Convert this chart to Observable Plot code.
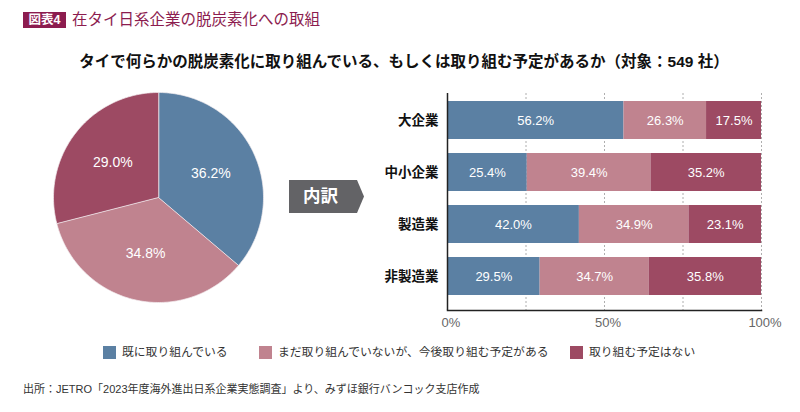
<!DOCTYPE html>
<html><head><meta charset="utf-8">
<script src="https://cdn.jsdelivr.net/npm/d3@7"></script>
<script src="https://cdn.jsdelivr.net/npm/@observablehq/plot@0.6"></script>
<style>
body{margin:0;background:#fff;}
#root{position:relative;width:800px;height:412px;overflow:hidden;font-family:"Liberation Sans","Noto Sans CJK JP",sans-serif;color:#222;}
.abs{position:absolute;}
.badge{left:23px;top:12px;width:43px;height:16px;background:#8c1c4f;color:#fff;font-weight:bold;font-size:12.5px;line-height:16px;text-align:center;}
.title{left:72px;top:10px;font-size:15.5px;line-height:19px;color:#8c1c4f;white-space:nowrap;}
.subtitle{left:0;top:53px;width:808px;text-align:center;font-weight:bold;font-size:15.5px;line-height:18px;color:#111;white-space:nowrap;}
.arrow{left:289px;top:180px;width:75px;height:33px;background:#636366;clip-path:polygon(0 0,68px 0,75px 50%,68px 100%,0 100%);color:#fff;font-weight:bold;font-size:17.5px;line-height:33px;padding-left:14px;box-sizing:border-box;}
.leg{top:346px;display:flex;align-items:center;font-size:11.8px;line-height:13px;color:#333;white-space:nowrap;}
.sw{width:13px;height:13px;margin-right:6px;flex:none;}
.caption{left:23px;top:382px;font-size:11px;line-height:14px;color:#333;white-space:nowrap;}
</style></head><body><div id="root"></div>
<script>
// ---- data ----
const seriesNames = ["既に取り組んでいる", "まだ取り組んでいないが、今後取り組む予定がある", "取り組む予定はない"];
const seriesColors = ["#5b80a3", "#c0838f", "#9d4a63"];
const pieValues = [36.2, 34.8, 29.0];
const categories = ["大企業", "中小企業", "製造業", "非製造業"];
const doneValues = [56.2, 25.4, 42.0, 29.5];
const plannedValues = [26.3, 39.4, 34.9, 34.7];
const noneValues = [17.5, 35.2, 23.1, 35.8];
const xTicks = [0, 50, 100];
const gridTicks = [25, 50, 75, 100];
const titleBadge = "図表4";
const titleText = "在タイ日系企業の脱炭素化への取組";
const subtitleText = "タイで何らかの脱炭素化に取り組んでいる、もしくは取り組む予定があるか（対象：549 社）";
const arrowText = "内訳";
const captionText = "出所：JETRO「2023年度海外進出日系企業実態調査」より、みずほ銀行バンコック支店作成";

const root = document.getElementById("root");
function addDiv(cls, text, style) {
  const d = document.createElement("div");
  d.className = "abs " + cls;
  if (text != null) d.textContent = text;
  if (style) Object.assign(d.style, style);
  root.appendChild(d);
  return d;
}
addDiv("badge", titleBadge);
addDiv("title", titleText);
addDiv("subtitle", subtitleText);
addDiv("arrow", arrowText);
addDiv("caption", captionText);

// ---- pie ----
const pieArcs = d3.pie().sort(null).value(d => d)(pieValues);
const piePts = [];
const pieLabels = [];
pieArcs.forEach((a, i) => {
  piePts.push({x: 0, y: 0, s: seriesNames[i]});
  const n = 120;
  for (let k = 0; k <= n; k++) {
    const t = a.startAngle + (a.endAngle - a.startAngle) * k / n;
    piePts.push({x: Math.sin(t), y: Math.cos(t), s: seriesNames[i]});
  }
  const m = (a.startAngle + a.endAngle) / 2;
  pieLabels.push({x: 0.55 * Math.sin(m), y: 0.55 * Math.cos(m), v: pieValues[i]});
});
const R = 110 / 105;
const pie = Plot.plot({
  width: 220, height: 220, margin: 0,
  x: {domain: [-R, R], axis: null},
  y: {domain: [-R, R], axis: null},
  color: {domain: seriesNames, range: seriesColors},
  style: {fontFamily: '"Liberation Sans","Noto Sans CJK JP",sans-serif', background: "transparent"},
  marks: [
    Plot.line(piePts, {x: "x", y: "y", z: "s", fill: "s", stroke: "#f4eef0", strokeWidth: 0.7, curve: "linear-closed"}),
    Plot.text(pieLabels, {x: "x", y: "y", text: d => d.v.toFixed(1) + "%", fill: "white", fontSize: 14})
  ]
});
pie.style.position = "absolute";
pie.style.left = "47.5px";
pie.style.top = "87px";
root.appendChild(pie);

// ---- bars ----
const barData = categories.flatMap((c, i) => [
  {cat: c, type: seriesNames[0], value: doneValues[i]},
  {cat: c, type: seriesNames[1], value: plannedValues[i]},
  {cat: c, type: seriesNames[2], value: noneValues[i]}
]);
const bars = Plot.plot({
  width: 420, height: 260,
  marginLeft: 67, marginRight: 39, marginTop: 13, marginBottom: 30,
  x: {domain: [0, 100], ticks: xTicks, tickFormat: d => d + "%", tickSize: 0, tickPadding: 8, label: null},
  y: {domain: categories, paddingInner: 0.27, paddingOuter: 0.2135, align: 0.345, label: null, tickSize: 0, tickPadding: 9},
  color: {domain: seriesNames, range: seriesColors},
  style: {fontFamily: '"Liberation Sans","Noto Sans CJK JP",sans-serif', fontSize: "13px", background: "transparent"},
  marks: [
    Plot.ruleX(gridTicks, {stroke: "#9a9a9a", strokeDasharray: "2,2", strokeWidth: 0.8}),
    Plot.barX(barData, Plot.stackX({x: "value", y: "cat", fill: "type", z: "type", order: seriesNames})),
    Plot.text(barData, Plot.stackX({x: "value", y: "cat", z: "type", order: seriesNames, text: d => d.value.toFixed(1) + "%", fill: "white", fontSize: 13})),
    Plot.ruleX([0], {stroke: "#222", strokeWidth: 1.5}),
    Plot.frame({anchor: "bottom", stroke: "#222", strokeWidth: 1.5})
  ]
});
bars.style.position = "absolute";
bars.style.left = "380px";
bars.style.top = "80px";
root.appendChild(bars);
d3.select(bars).selectAll("g[aria-label='y-axis tick label']")
  .attr("font-weight", "bold").attr("font-size", "13.5px").attr("fill", "#111");
d3.select(bars).selectAll("g[aria-label='x-axis tick label']").attr("fill", "#666").attr("transform", "translate(4,8)");

// ---- legend ----
const legLeft = [103, 259, 570];
seriesNames.forEach((s, i) => {
  const d = addDiv("leg", null, {left: legLeft[i] + "px"});
  const sw = document.createElement("div");
  sw.className = "sw";
  sw.style.background = seriesColors[i];
  d.appendChild(sw);
  const t = document.createElement("span");
  t.textContent = s;
  d.appendChild(t);
});
</script></body></html>
